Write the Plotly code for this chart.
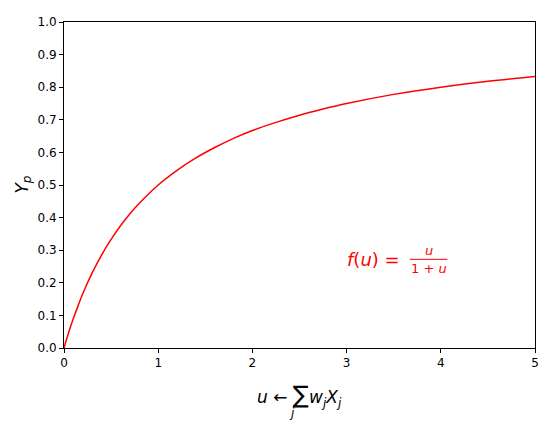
import plotly.graph_objects as go

# values
u_vals = [0, 0.05, 0.1, 0.15, 0.2, 0.3, 0.4, 0.5, 0.6, 0.7, 0.8, 1.0, 1.2, 1.4,
          1.6, 1.8, 2.0, 2.25, 2.5, 2.75, 3.0, 3.5, 4.0, 4.5, 5.0]
y_vals = [0, 0.048, 0.091, 0.13, 0.167, 0.231, 0.286, 0.333, 0.375, 0.412, 0.444,
          0.5, 0.545, 0.583, 0.615, 0.643, 0.667, 0.692, 0.714, 0.733, 0.75,
          0.778, 0.8, 0.818, 0.833]

x_ticks = [0, 1, 2, 3, 4, 5]
y_ticks = [0.0, 0.1, 0.2, 0.3, 0.4, 0.5, 0.6, 0.7, 0.8, 0.9, 1.0]

font = "DejaVu Sans"

fig = go.Figure()
fig.add_trace(
    go.Scatter(
        x=u_vals,
        y=y_vals,
        mode="lines",
        line=dict(color="red", width=1.5, shape="spline"),
        showlegend=False,
    )
)

axis_style = dict(
    showgrid=False,
    zeroline=False,
    showline=True,
    linecolor="black",
    linewidth=1,
    mirror=True,
    ticks="outside",
    ticklen=4,
    tickwidth=1,
    tickcolor="black",
    tickfont=dict(family=font, size=12, color="black"),
)

fig.update_xaxes(
    range=[0, 5],
    tickvals=x_ticks,
    ticktext=[str(t) for t in x_ticks],
    **axis_style,
)
fig.update_yaxes(
    range=[0, 1],
    tickvals=y_ticks,
    ticktext=[f"{t:.1f}" for t in y_ticks],
    **axis_style,
)

# axis labels
fig.add_annotation(
    text="<i>u</i> ← <span style='font-size:24px'>∑</span><i>w<sub>j</sub>X<sub>j</sub></i>",
    xref="paper", yref="paper", x=0.5, y=-0.095,
    xanchor="center", yanchor="top", showarrow=False,
    font=dict(family=font, size=17, color="black"),
)
fig.add_annotation(
    text="<i>j</i>",
    xref="paper", yref="paper", x=0.484, y=-0.172,
    xanchor="center", yanchor="top", showarrow=False,
    font=dict(family=font, size=12, color="black"),
)
fig.add_annotation(
    text="<i>Y<sub>p</sub></i>",
    xref="paper", yref="paper", x=-0.088, y=0.5,
    xanchor="center", yanchor="middle", showarrow=False, textangle=-90,
    font=dict(family=font, size=17, color="black"),
)

# formula label
fig.add_annotation(
    text="<i>f</i>(<i>u</i>) =",
    x=2.98, y=0.27, xanchor="left", yanchor="middle", showarrow=False,
    font=dict(family=font, size=18, color="red"),
)
fig.add_annotation(
    text="<i>u</i>",
    x=3.87, y=0.3, xanchor="center", yanchor="middle", showarrow=False,
    font=dict(family=font, size=13, color="red"),
)
fig.add_annotation(
    text="1 + <i>u</i>",
    x=3.87, y=0.243, xanchor="center", yanchor="middle", showarrow=False,
    font=dict(family=font, size=13, color="red"),
)
fig.add_shape(
    type="line", x0=3.67, x1=4.07, y0=0.272, y1=0.272,
    line=dict(color="red", width=1),
)

# page body has an 8px margin, so the figure is sized to fit the window
fig.update_layout(
    width=542,
    height=415,
    margin=dict(l=56, r=15, t=7, b=75),
    plot_bgcolor="white",
    paper_bgcolor="white",
    font=dict(family=font),
)

fig.write_html("out.html")
